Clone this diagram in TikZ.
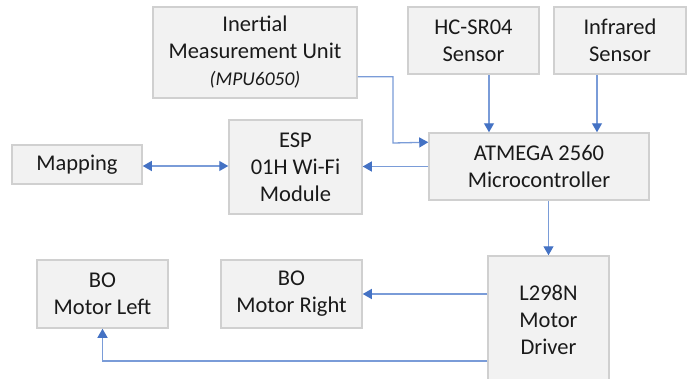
\documentclass[tikz,border=0pt]{standalone}
\usepackage{fontspec}
\setmainfont{Carlito}
\usetikzlibrary{arrows.meta}
\definecolor{boxfill}{HTML}{F2F2F2}
\definecolor{boxline}{HTML}{D0D0D0}
\definecolor{arrline}{HTML}{7A9CD8}
\definecolor{arrhead}{HTML}{4472C4}
\definecolor{txt}{HTML}{1A1A1A}
\tikzset{
  blk/.style={draw=boxline, fill=boxfill, line width=1.5pt, align=center, inner sep=0pt,
    text=txt, font=\fontsize{22.5}{27}\selectfont},
  arr/.style={draw=arrline, line width=1.3pt, -{Triangle[length=9pt,width=10pt,color=arrhead]}},
  arrb/.style={draw=arrline, line width=1.3pt, {Triangle[length=9pt,width=10pt,color=arrhead]}-{Triangle[length=9pt,width=10pt,color=arrhead]}}
}
\begin{document}
\begin{tikzpicture}[x=1pt,y=-1pt]
\clip (0,0) rectangle (691,378);
\fill[white] (0,0) rectangle (691,378);
\node[blk, minimum width=204pt, minimum height=91pt] (imu) at (255,52.5)
  {Inertial\\Measurement Unit\\{\fontsize{19.5}{24}\selectfont\itshape (MPU6050)}};
\node[blk, minimum width=131pt, minimum height=67pt] (hc) at (473.5,40.5) {HC-SR04\\Sensor};
\node[blk, minimum width=132pt, minimum height=67pt] (ir) at (620,40.5) {Infrared\\Sensor};
\node[blk, minimum width=220pt, minimum height=67pt] (atm) at (539,166.5) {ATMEGA 2560\\Microcontroller};
\node[blk, minimum width=133pt, minimum height=94pt] (esp) at (295.5,167) {ESP\\01H Wi-Fi\\Module};
\node[blk, minimum width=130pt, minimum height=39pt] (map) at (77,164.5) {Mapping};
\node[blk, minimum width=131pt, minimum height=68pt] (bol) at (102.5,294) {BO\\Motor Left};
\node[blk, minimum width=141pt, minimum height=68pt] (bor) at (291.5,294) {BO\\Motor Right};
\node[blk, minimum width=121pt, minimum height=128pt] (drv) at (548.5,320) {L298N\\Motor\\Driver};

\draw[arr] ([yshift=22pt]imu.south east) -| (393,143) -- ([yshift=-10pt]atm.north west);
\draw[arr] ([xshift=15.5pt]hc.south) -- ([xshift=15.5pt]hc.south |- atm.north);
\draw[arr] ([xshift=-23pt]ir.south) -- ([xshift=-23pt]ir.south |- atm.north);
\draw[arr] (atm.west) -- (atm.west -| esp.east);
\draw[arrb] ([yshift=-1.5pt]map.east) -- ([yshift=-1.5pt]map.east -| esp.west);
\draw[arr] (atm.south -| drv.north) -- (drv.north);
\draw[arr] (drv.west |- bor.east) -- (bor.east);
\draw[arr] ([yshift=-41pt]drv.west) -| (bol.south);
\end{tikzpicture}
\end{document}
